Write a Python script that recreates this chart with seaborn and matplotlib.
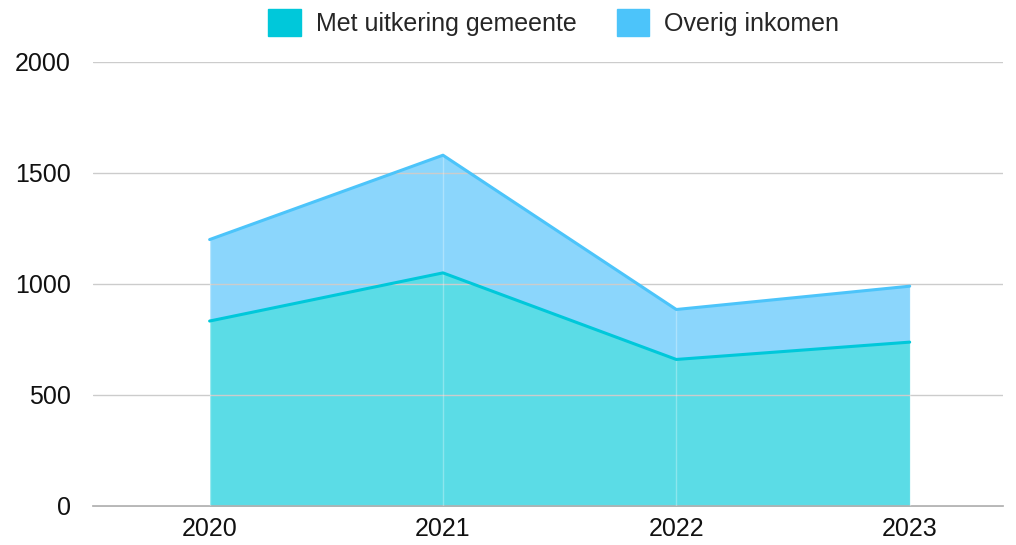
import numpy as np
import pandas as pd
import matplotlib
matplotlib.use("Agg")
import matplotlib.pyplot as plt
import seaborn as sns
from matplotlib.patches import Patch

years = ["2020", "2021", "2022", "2023"]
met_uitkering = [833, 1050, 660, 738]
overig = [367, 530, 225, 252]

sns.set_theme(style="white")
plt.rcParams['font.family'] = ['Liberation Sans', 'DejaVu Sans']

df = pd.DataFrame({"jaar": years, "uitkering": met_uitkering, "overig": overig})
df["totaal"] = df["uitkering"] + df["overig"]
x = np.arange(len(years))

fig = plt.figure(figsize=(10.16, 5.45), dpi=100)
ax = fig.add_axes([0.0915, 0.0716, 0.8957, 0.8147])

c1_line, c1_fill = "#00C8DA", "#5BDCE6"
c2_line, c2_fill = "#4CC4FA", "#8BD6FC"

ax.fill_between(x, 0, df["uitkering"], color=c1_fill, lw=0, zorder=2)
ax.fill_between(x, df["uitkering"], df["totaal"], color=c2_fill, lw=0, zorder=2)
sns.lineplot(x=x, y=df["totaal"].values, color=c2_line, lw=2.2, ax=ax, zorder=4)
sns.lineplot(x=x, y=df["uitkering"].values, color=c1_line, lw=2.2, ax=ax, zorder=4)
for xi, t in zip(x, df["totaal"]):
    ax.plot([xi, xi], [0, t], color="white", alpha=0.3, lw=1, zorder=3)

ax.set_xlim(-0.5, 3.4)
ax.set_ylim(0, 2000)
ax.set_yticks([0, 500, 1000, 1500, 2000])
ax.set_xticks(x)
ax.set_xticklabels(years)
ax.yaxis.grid(True, color="#cccccc", lw=1, zorder=5)
ax.set_axisbelow(False)
for s in ["top", "right", "left"]:
    ax.spines[s].set_visible(False)
ax.spines["bottom"].set_color("#aaaaaa")
ax.spines["bottom"].set_linewidth(1.2)
ax.tick_params(axis="both", length=0, labelsize=18, colors="#111111")
ax.tick_params(axis="x", pad=8)
ax.tick_params(axis="y", pad=16)
ax.set_xlabel("")
ax.set_ylabel("")

handles = [Patch(color=c1_line, label="Met uitkering gemeente"),
           Patch(color=c2_line, label="Overig inkomen")]
fig.legend(handles=handles, loc="upper center", bbox_to_anchor=(0.545, 1.025), ncol=2,
           frameon=False, fontsize=18, handlelength=1.3, handleheight=1.3,
           columnspacing=1.6, handletextpad=0.6)

fig.savefig("out.png", dpi=100)
